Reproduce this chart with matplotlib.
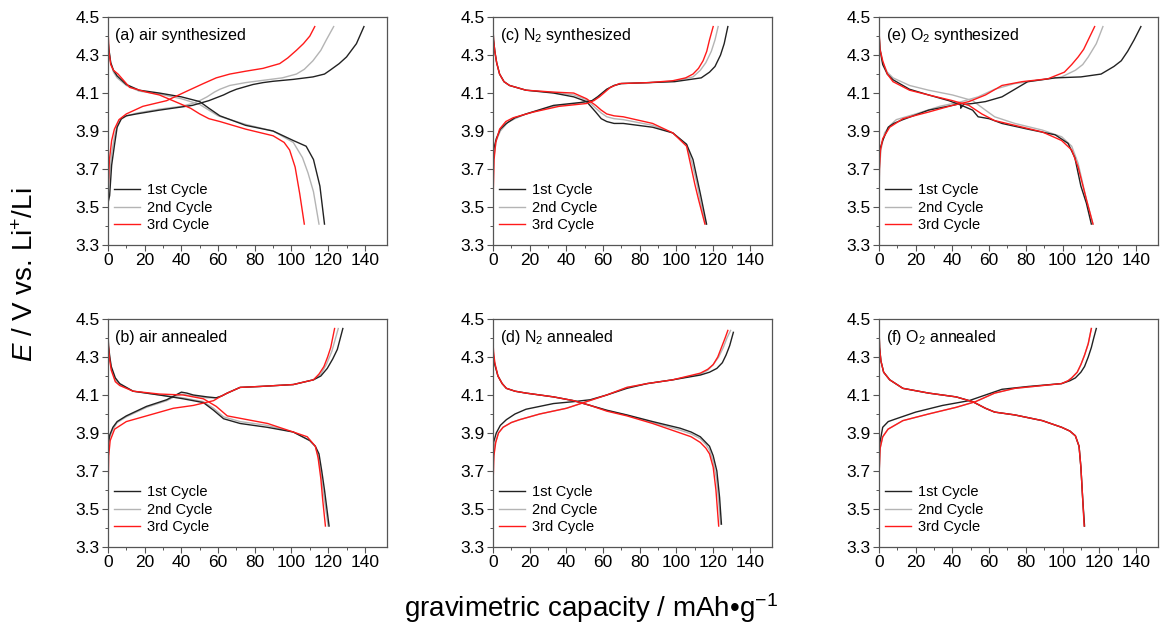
import numpy as np
import matplotlib
matplotlib.use('Agg')
import matplotlib.pyplot as plt
from matplotlib.ticker import FixedLocator, FormatStrFormatter
from matplotlib.lines import Line2D

plt.rcParams['font.family'] = ['Liberation Sans', 'DejaVu Sans']
plt.rcParams['mathtext.fontset'] = 'custom'
plt.rcParams['mathtext.rm'] = 'Liberation Sans'
plt.rcParams['mathtext.it'] = 'Liberation Sans:italic'

# ---- (a) air synthesized ----
a_ch1_q = [0, 0.9, 2, 3.6, 5, 7.3, 10, 15.5, 28, 46, 55, 63, 66.4, 70, 79, 84.5, 90, 101, 111.7, 118, 121, 126, 130, 135.4, 139.5]
a_ch1_v = [3.52, 3.56, 3.72, 3.83, 3.92, 3.965, 3.98, 3.99, 4.01, 4.035, 4.06, 4.09, 4.106, 4.12, 4.145, 4.155, 4.162, 4.172, 4.185, 4.20, 4.22, 4.255, 4.29, 4.36, 4.45]
a_ch2_q = [0, 0.8, 2, 3.5, 5, 7, 10, 16, 28, 40, 46, 50, 54, 58, 61, 66.4, 75, 84.5, 95, 102.7, 107, 111.7, 116, 119, 123]
a_ch2_v = [3.58, 3.66, 3.78, 3.87, 3.93, 3.96, 3.98, 3.995, 4.015, 4.03, 4.045, 4.06, 4.08, 4.105, 4.12, 4.14, 4.155, 4.167, 4.18, 4.20, 4.225, 4.27, 4.325, 4.38, 4.45]
a_ch3_q = [0, 0.2, 0.8, 2, 3.5, 6, 10, 19, 32, 43, 52, 59, 66.4, 75, 84.5, 93.6, 98, 102.7, 106.5, 110, 112.7]
a_ch3_v = [3.55, 3.62, 3.75, 3.85, 3.91, 3.96, 3.99, 4.03, 4.06, 4.11, 4.15, 4.18, 4.20, 4.215, 4.23, 4.255, 4.285, 4.325, 4.36, 4.40, 4.45]
a_dis1_q = [0, 0.5, 1.5, 3, 5, 10, 17, 28, 40, 50, 55, 61, 75, 90, 101, 108, 112, 115.5, 118]
a_dis1_v = [4.38, 4.33, 4.26, 4.22, 4.19, 4.145, 4.115, 4.10, 4.08, 4.055, 4.02, 3.98, 3.93, 3.90, 3.85, 3.82, 3.75, 3.61, 3.41]
a_dis2_q = [0, 0.5, 1.5, 3, 5, 10, 17, 28, 40, 50, 55, 60, 75, 90, 101, 106, 109, 112, 115]
a_dis2_v = [4.42, 4.33, 4.26, 4.21, 4.18, 4.14, 4.11, 4.095, 4.07, 4.04, 4.01, 3.98, 3.935, 3.90, 3.84, 3.76, 3.68, 3.58, 3.41]
a_dis3_q = [0, 0.5, 1.5, 3, 5.5, 11.8, 21, 28, 39, 45, 50, 55, 61, 75, 90, 96, 99, 102, 104.5, 107]
a_dis3_v = [4.45, 4.32, 4.25, 4.22, 4.20, 4.13, 4.105, 4.09, 4.045, 4.02, 3.99, 3.965, 3.95, 3.91, 3.875, 3.84, 3.80, 3.71, 3.57, 3.41]

# ---- (b) air annealed ----
b_ch1_q = [0, 0.3, 1, 2.7, 5, 10, 21, 32, 36, 40, 43, 46.5, 54, 59, 62, 65, 72, 83, 101, 112, 116, 119.5, 122.5, 125, 128]
b_ch1_v = [3.80, 3.85, 3.89, 3.93, 3.96, 3.99, 4.04, 4.075, 4.095, 4.115, 4.11, 4.10, 4.09, 4.085, 4.095, 4.11, 4.14, 4.145, 4.155, 4.18, 4.20, 4.24, 4.29, 4.34, 4.45]
b_ch2_q = [0, 0.3, 1, 2.7, 5, 10, 21, 32, 36, 40, 43, 46.5, 54, 59, 62, 65, 72, 83, 101, 112, 116, 119, 122, 125.5]
b_ch2_v = [3.75, 3.83, 3.88, 3.92, 3.955, 3.985, 4.035, 4.07, 4.09, 4.105, 4.10, 4.095, 4.085, 4.085, 4.095, 4.11, 4.14, 4.145, 4.155, 4.18, 4.21, 4.26, 4.33, 4.45]
b_ch3_q = [0, 0.1, 0.4, 1.2, 3.6, 10, 21, 35.6, 46.5, 57.5, 61, 65, 72, 83, 101, 112, 115, 117.7, 119.7, 121.4, 123.5]
b_ch3_v = [3.48, 3.62, 3.78, 3.86, 3.92, 3.96, 3.99, 4.03, 4.045, 4.07, 4.09, 4.11, 4.14, 4.145, 4.155, 4.18, 4.21, 4.25, 4.30, 4.35, 4.45]
b_dis1_q = [0, 0.3, 1, 1.8, 4, 6.4, 13.7, 28, 41, 52, 57.5, 63, 72, 86.7, 101, 110, 113, 115, 116.5, 118, 120.5]
b_dis1_v = [4.44, 4.36, 4.30, 4.25, 4.19, 4.16, 4.12, 4.10, 4.08, 4.06, 4.02, 3.975, 3.95, 3.93, 3.905, 3.86, 3.83, 3.79, 3.70, 3.60, 3.41]
b_dis2_q = [0, 0.3, 1, 1.8, 4, 6.4, 13.7, 28, 41, 52, 57.5, 63, 72, 86.7, 101, 110, 113, 114.5, 116, 117.5, 120]
b_dis2_v = [4.42, 4.35, 4.29, 4.24, 4.18, 4.155, 4.12, 4.10, 4.085, 4.065, 4.03, 3.985, 3.96, 3.94, 3.905, 3.86, 3.83, 3.78, 3.69, 3.58, 3.41]
b_dis3_q = [0, 0.3, 1, 1.8, 4, 6.4, 13.7, 28, 41, 52, 59, 65, 76, 87, 101, 108.6, 113, 114.5, 116, 117, 118.5]
b_dis3_v = [4.42, 4.35, 4.28, 4.23, 4.17, 4.15, 4.12, 4.105, 4.10, 4.08, 4.04, 3.99, 3.97, 3.95, 3.905, 3.88, 3.83, 3.77, 3.66, 3.55, 3.41]

# ---- (c) N2 synthesized ----
c_ch1_q = [0, 0.3, 1.8, 4, 7.3, 12, 18, 33, 47.6, 54, 57, 62, 66, 70, 85, 99, 113.5, 118, 121, 124, 126, 128]
c_ch1_v = [3.70, 3.80, 3.86, 3.91, 3.94, 3.97, 3.99, 4.035, 4.05, 4.06, 4.08, 4.12, 4.14, 4.15, 4.155, 4.16, 4.18, 4.21, 4.24, 4.30, 4.36, 4.45]
c_ch2_q = [0, 0.3, 1.8, 4, 8, 12, 18, 33, 47.6, 54, 57, 62, 66, 70, 85, 99, 109, 113, 116, 119, 121, 122.7]
c_ch2_v = [3.55, 3.75, 3.85, 3.90, 3.945, 3.965, 3.99, 4.03, 4.048, 4.06, 4.08, 4.12, 4.14, 4.15, 4.155, 4.163, 4.185, 4.22, 4.26, 4.32, 4.38, 4.45]
c_ch3_q = [0, 0.2, 0.6, 1.5, 3.6, 7, 11, 22, 36, 51, 55, 58, 61, 64, 69, 85, 98, 105, 109, 112, 114.5, 116.5, 118, 120]
c_ch3_v = [3.42, 3.60, 3.75, 3.84, 3.91, 3.95, 3.97, 4.0, 4.03, 4.045, 4.06, 4.08, 4.105, 4.13, 4.15, 4.155, 4.165, 4.18, 4.20, 4.23, 4.27, 4.32, 4.38, 4.45]
c_dis1_q = [0, 0.3, 1, 2, 3.6, 6, 9, 18, 33, 44, 51, 56, 59, 62, 66, 71, 87, 98, 105.5, 109, 111, 113, 116.4]
c_dis1_v = [4.45, 4.38, 4.32, 4.26, 4.2, 4.16, 4.14, 4.115, 4.10, 4.08, 4.055, 4.0, 3.965, 3.95, 3.94, 3.94, 3.92, 3.89, 3.83, 3.75, 3.66, 3.57, 3.41]
c_dis2_q = [0, 0.3, 1, 2, 3.6, 6, 9, 18, 33, 44, 51, 56, 59, 62, 66, 71, 87, 98, 105.5, 108.5, 111, 113, 116]
c_dis2_v = [4.45, 4.38, 4.32, 4.26, 4.2, 4.16, 4.14, 4.115, 4.103, 4.09, 4.065, 4.02, 3.995, 3.975, 3.965, 3.96, 3.93, 3.89, 3.83, 3.73, 3.63, 3.53, 3.41]
c_dis3_q = [0, 0.3, 1, 2, 3.6, 6, 9, 18, 33, 44, 51, 56, 59, 62, 66, 71, 87, 98, 105.5, 108, 110, 112, 115.5]
c_dis3_v = [4.45, 4.38, 4.32, 4.26, 4.2, 4.16, 4.14, 4.115, 4.105, 4.10, 4.07, 4.035, 4.01, 3.99, 3.98, 3.975, 3.94, 3.89, 3.82, 3.71, 3.62, 3.54, 3.41]

# ---- (d) N2 annealed ----
d_ch1_q = [0, 0.3, 1.8, 4, 7.3, 12, 18, 33, 44, 53, 62, 73, 84, 98, 113, 118, 122, 125, 127, 129, 131]
d_ch1_v = [3.78, 3.85, 3.90, 3.94, 3.97, 4.0, 4.025, 4.055, 4.065, 4.075, 4.10, 4.135, 4.16, 4.18, 4.205, 4.22, 4.24, 4.27, 4.31, 4.36, 4.43]
d_ch2_q = [0, 0.2, 1, 3, 5.5, 10, 14.5, 25.5, 40, 51, 62, 73, 84, 98, 113, 117, 120, 123, 125.5, 127.5, 129.5]
d_ch2_v = [3.60, 3.75, 3.84, 3.90, 3.93, 3.955, 3.97, 4.0, 4.03, 4.065, 4.10, 4.14, 4.16, 4.18, 4.21, 4.23, 4.26, 4.30, 4.35, 4.40, 4.44]
d_ch3_q = [0, 0.1, 0.5, 1.5, 3, 5.5, 10, 14.5, 25.5, 40, 51, 62, 73, 84, 98, 113, 117, 120, 122.5, 124.5, 126.5, 128]
d_ch3_v = [3.52, 3.65, 3.78, 3.85, 3.90, 3.93, 3.955, 3.97, 4.0, 4.03, 4.065, 4.10, 4.14, 4.16, 4.18, 4.215, 4.235, 4.26, 4.30, 4.35, 4.40, 4.44]
d_dis1_q = [0, 0.3, 1, 2.7, 5, 7.3, 12, 18, 33, 44, 53, 62, 73, 87, 102, 108, 113, 116, 118, 120, 122, 123.5, 124.5]
d_dis1_v = [4.32, 4.30, 4.26, 4.20, 4.16, 4.135, 4.12, 4.11, 4.09, 4.07, 4.045, 4.02, 3.995, 3.96, 3.925, 3.905, 3.88, 3.85, 3.83, 3.78, 3.70, 3.56, 3.42]
d_dis2_q = [0, 0.3, 1, 2.7, 5, 7.3, 12, 18, 33, 44, 53, 62, 73, 87, 102, 108, 113, 116, 118, 120, 121.8, 123, 124]
d_dis2_v = [4.35, 4.31, 4.26, 4.20, 4.16, 4.135, 4.12, 4.11, 4.09, 4.07, 4.045, 4.018, 3.993, 3.955, 3.915, 3.895, 3.87, 3.84, 3.81, 3.75, 3.66, 3.54, 3.42]
d_dis3_q = [0, 0.3, 1, 2.7, 5, 7.3, 12, 18, 33, 44, 53, 62, 73, 87, 102, 108, 113, 116, 118, 120, 121.5, 123]
d_dis3_v = [4.38, 4.33, 4.27, 4.20, 4.16, 4.135, 4.12, 4.11, 4.09, 4.07, 4.045, 4.015, 3.99, 3.95, 3.90, 3.88, 3.85, 3.82, 3.79, 3.72, 3.60, 3.41]

# ---- (e) O2 synthesized ----
e_ch1_q = [0, 0.3, 2, 5, 8, 13, 27, 40, 44.5, 44.5, 46, 51, 58, 67, 74, 81, 96, 110, 121, 128, 132, 135.5, 139, 142.7]
e_ch1_v = [3.72, 3.80, 3.85, 3.92, 3.94, 3.96, 4.01, 4.035, 4.045, 4.02, 4.04, 4.045, 4.055, 4.08, 4.12, 4.16, 4.18, 4.185, 4.20, 4.24, 4.27, 4.32, 4.38, 4.45]
e_ch2_q = [0, 0.3, 1, 3, 6, 9.4, 20, 33, 45, 54, 63, 74, 89, 99.5, 107, 111, 114, 118.4, 122]
e_ch2_v = [3.55, 3.70, 3.80, 3.89, 3.93, 3.96, 3.99, 4.03, 4.055, 4.08, 4.12, 4.15, 4.17, 4.185, 4.22, 4.25, 4.29, 4.36, 4.45]
e_ch3_q = [0, 0.2, 0.8, 2, 5.8, 13, 27, 40, 49, 58, 67, 78, 92, 101, 105, 108.5, 111.5, 114, 117.5]
e_ch3_v = [3.55, 3.70, 3.80, 3.86, 3.92, 3.965, 4.0, 4.035, 4.055, 4.09, 4.14, 4.16, 4.175, 4.21, 4.25, 4.29, 4.33, 4.38, 4.45]
e_dis1_q = [0, 0.5, 2, 4.5, 7.6, 16.6, 27, 38, 45, 51, 54, 60, 67, 81, 96, 103, 106.7, 110, 113, 115.7]
e_dis1_v = [4.41, 4.33, 4.25, 4.2, 4.17, 4.12, 4.09, 4.06, 4.035, 4.01, 3.975, 3.965, 3.94, 3.91, 3.88, 3.835, 3.76, 3.61, 3.52, 3.41]
e_dis2_q = [0, 0.5, 2, 4.5, 7.6, 16.6, 27, 40, 51, 58, 63, 74, 89, 99.5, 105, 108.5, 113, 116.6]
e_dis2_v = [4.42, 4.34, 4.26, 4.21, 4.18, 4.14, 4.115, 4.09, 4.06, 4.01, 3.975, 3.94, 3.905, 3.87, 3.82, 3.73, 3.54, 3.41]
e_dis3_q = [0, 0.5, 2, 4.5, 7.6, 16.6, 27, 40, 49, 56, 63, 74, 89, 99.5, 105, 108.5, 113, 116.6]
e_dis3_v = [4.43, 4.33, 4.27, 4.2, 4.16, 4.115, 4.09, 4.06, 4.035, 3.99, 3.955, 3.93, 3.895, 3.85, 3.80, 3.71, 3.54, 3.41]

# ---- (f) O2 annealed ----
f_ch1_q = [0, 0.3, 2, 5, 9.4, 20, 34.6, 49, 58, 67, 81.4, 99.5, 104, 107, 110, 112, 114, 115.7, 117, 118.4]
f_ch1_v = [3.75, 3.84, 3.93, 3.96, 3.975, 4.01, 4.045, 4.07, 4.10, 4.13, 4.145, 4.16, 4.175, 4.19, 4.22, 4.25, 4.30, 4.35, 4.40, 4.45]
f_ch2_q = [0, 0.1, 0.6, 2, 4.9, 13, 27, 42, 52.6, 63, 74, 99.5, 103, 105, 108, 110, 112, 114, 115.7]
f_ch2_v = [3.45, 3.70, 3.82, 3.88, 3.92, 3.965, 4.0, 4.035, 4.065, 4.11, 4.135, 4.16, 4.175, 4.19, 4.22, 4.26, 4.31, 4.37, 4.45]
f_ch3_q = [0, 0.1, 0.6, 2, 4.9, 13, 27, 42, 52.6, 63, 74, 99.5, 103, 105, 108, 110, 112, 114, 115.7]
f_ch3_v = [3.44, 3.70, 3.82, 3.88, 3.92, 3.965, 4.0, 4.035, 4.065, 4.11, 4.135, 4.16, 4.175, 4.19, 4.22, 4.26, 4.31, 4.37, 4.45]
f_dis1_q = [0, 0.3, 1, 2.5, 5.8, 13, 27, 42, 51, 58, 63, 74, 89, 99.5, 104, 107, 109, 110, 111, 112]
f_dis1_v = [4.44, 4.35, 4.28, 4.22, 4.18, 4.135, 4.11, 4.09, 4.065, 4.03, 4.01, 3.995, 3.965, 3.93, 3.91, 3.885, 3.83, 3.72, 3.55, 3.41]
f_dis2_q = [0, 0.3, 1, 2.5, 5.8, 13, 27, 42, 51, 58, 63, 74, 89, 99.5, 104, 107, 109, 110, 111, 111.8]
f_dis2_v = [4.44, 4.35, 4.28, 4.22, 4.18, 4.135, 4.11, 4.09, 4.065, 4.03, 4.01, 3.995, 3.965, 3.93, 3.91, 3.885, 3.83, 3.72, 3.55, 3.41]
f_dis3_q = [0, 0.3, 1, 2.5, 5.8, 13, 27, 42, 51, 58, 63, 74, 89, 99.5, 104, 107, 109, 110, 111, 111.8]
f_dis3_v = [4.45, 4.35, 4.28, 4.22, 4.18, 4.135, 4.11, 4.09, 4.065, 4.03, 4.01, 3.995, 3.965, 3.93, 3.91, 3.885, 3.83, 3.72, 3.55, 3.41]

panel_titles = ['(a) air synthesized', '(b) air annealed',
                '(c) N$_2$ synthesized', '(d) N$_2$ annealed',
                '(e) O$_2$ synthesized', '(f) O$_2$ annealed']
cycle_labels = ['1st Cycle', '2nd Cycle', '3rd Cycle']
cycle_colors = ['#222222', '#b4b4b4', '#ff1a1a']
x_major = [0, 20, 40, 60, 80, 100, 120, 140]
x_minor = [10, 30, 50, 70, 90, 110, 130]
y_major = [3.3, 3.5, 3.7, 3.9, 4.1, 4.3, 4.5]
y_minor = [3.4, 3.6, 3.8, 4.0, 4.2, 4.4]

panels = {
    'a': [(a_ch1_q, a_ch1_v, a_dis1_q, a_dis1_v), (a_ch2_q, a_ch2_v, a_dis2_q, a_dis2_v), (a_ch3_q, a_ch3_v, a_dis3_q, a_dis3_v)],
    'b': [(b_ch1_q, b_ch1_v, b_dis1_q, b_dis1_v), (b_ch2_q, b_ch2_v, b_dis2_q, b_dis2_v), (b_ch3_q, b_ch3_v, b_dis3_q, b_dis3_v)],
    'c': [(c_ch1_q, c_ch1_v, c_dis1_q, c_dis1_v), (c_ch2_q, c_ch2_v, c_dis2_q, c_dis2_v), (c_ch3_q, c_ch3_v, c_dis3_q, c_dis3_v)],
    'd': [(d_ch1_q, d_ch1_v, d_dis1_q, d_dis1_v), (d_ch2_q, d_ch2_v, d_dis2_q, d_dis2_v), (d_ch3_q, d_ch3_v, d_dis3_q, d_dis3_v)],
    'e': [(e_ch1_q, e_ch1_v, e_dis1_q, e_dis1_v), (e_ch2_q, e_ch2_v, e_dis2_q, e_dis2_v), (e_ch3_q, e_ch3_v, e_dis3_q, e_dis3_v)],
    'f': [(f_ch1_q, f_ch1_v, f_dis1_q, f_dis1_v), (f_ch2_q, f_ch2_v, f_dis2_q, f_dis2_v), (f_ch3_q, f_ch3_v, f_dis3_q, f_dis3_v)],
}

fig = plt.figure(figsize=(11.66, 6.33), dpi=100)

lefts = [0.0926, 0.4228, 0.7539]
bottoms = [0.613, 0.136]
w, h = 0.2392, 0.360
spine_col = '#555555'

for i, key in enumerate('abcdef'):
    col, row = i // 2, i % 2
    ax = fig.add_axes([lefts[col], bottoms[row], w, h])
    # gray first, then black, then red on top
    for k in [1, 0, 2]:
        cq, cv, dq, dv = panels[key][k]
        ax.plot(cq, cv, color=cycle_colors[k], lw=1.0)
        ax.plot(dq, dv, color=cycle_colors[k], lw=1.0)
    ax.set_xlim(0, 152)
    ax.set_ylim(3.3, 4.5)
    ax.xaxis.set_major_locator(FixedLocator(x_major))
    ax.xaxis.set_minor_locator(FixedLocator(x_minor))
    ax.yaxis.set_major_locator(FixedLocator(y_major))
    ax.yaxis.set_minor_locator(FixedLocator(y_minor))
    ax.yaxis.set_major_formatter(FormatStrFormatter('%.1f'))
    ax.tick_params(which='major', direction='out', length=4, width=0.8,
                   color=spine_col, labelsize=12.5, pad=2)
    ax.tick_params(which='minor', direction='out', length=2.5, width=0.7, color=spine_col)
    for s in ax.spines.values():
        s.set_color(spine_col)
        s.set_linewidth(0.9)
    ax.text(0.025, 0.92, panel_titles[i], transform=ax.transAxes,
            fontsize=11.5, va='center', ha='left')
    handles = [Line2D([], [], color=c, lw=1.0) for c in cycle_colors]
    ax.legend(handles, cycle_labels, loc='lower left', bbox_to_anchor=(0.02, 0.055),
              frameon=False, fontsize=10.5, handlelength=1.8, handletextpad=0.5,
              labelspacing=0.25, borderpad=0, borderaxespad=0)

fig.text(0.022, 0.566, '$E$ / V vs. Li$^{+}$/Li', rotation=90, fontsize=20,
         ha='center', va='center')
fig.text(0.507, 0.04, 'gravimetric capacity / mAh\u2022g$^{\u22121}$', fontsize=20,
         ha='center', va='center')

fig.savefig('out.png', dpi=100)
